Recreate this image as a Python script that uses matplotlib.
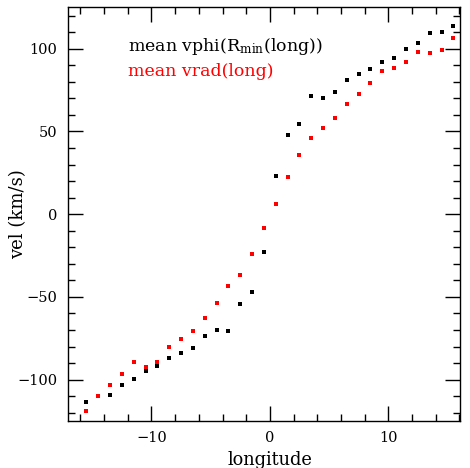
import matplotlib
matplotlib.use("Agg")
import matplotlib.pyplot as plt
from matplotlib.ticker import MultipleLocator

longitude = [-15.5, -14.5, -13.5, -12.5, -11.5, -10.5, -9.5, -8.5, -7.5, -6.5, -5.5, -4.5,
             -3.5, -2.5, -1.5, -0.5, 0.5, 1.5, 2.5, 3.5, 4.5, 5.5, 6.5, 7.5, 8.5, 9.5,
             10.5, 11.5, 12.5, 13.5, 14.5, 15.5]
vphi = [-113.6, -110.0, -109.3, -103.3, -99.8, -94.6, -91.7, -87.1, -84.1, -80.8, -73.8, -69.9,
        -70.7, -54.4, -47.3, -23.0, 23.2, 47.6, 54.3, 71.1, 70.1, 73.9, 81.0, 84.4, 87.5, 91.7,
        94.5, 100.0, 103.4, 109.5, 110.1, 113.5]
vrad = [-119.2, -109.9, -103.3, -96.4, -89.5, -92.1, -89.1, -80.0, -75.4, -70.5, -63.0, -53.6,
        -43.6, -36.6, -24.2, -8.3, 6.1, 22.2, 35.5, 45.8, 52.1, 58.2, 66.4, 72.5, 79.0, 86.7,
        88.1, 91.7, 98.2, 97.6, 99.4, 106.4]

label_vphi = r"mean vphi(R$_{\mathrm{min}}$(long))"
label_vrad = "mean vrad(long)"

plt.rcParams['font.family'] = ['DejaVu Serif']
plt.rcParams['mathtext.fontset'] = 'dejavuserif'

fig = plt.figure(figsize=(4.70, 4.68), dpi=100)
ax = fig.add_axes([0.1447, 0.1004, 0.834, 0.884])

ax.plot(longitude, vphi, 's', color='black', markersize=3.3, markeredgewidth=0)
ax.plot(longitude, vrad, 's', color='#ff0000', markersize=3.3, markeredgewidth=0)

ax.set_xlim(-17.05, 16.06)
ax.set_ylim(-125, 125)
ax.xaxis.set_major_locator(MultipleLocator(10))
ax.xaxis.set_minor_locator(MultipleLocator(2))
ax.yaxis.set_major_locator(MultipleLocator(50))
ax.yaxis.set_minor_locator(MultipleLocator(10))
ax.tick_params(which='both', direction='in', top=True, right=True, width=1)
ax.tick_params(which='major', length=11, labelsize=10.5)
ax.tick_params(axis='x', which='major', pad=7)
ax.tick_params(axis='y', which='major', pad=7.5)
ax.tick_params(which='minor', length=5)
for s in ax.spines.values():
    s.set_linewidth(1)

ax.set_xlabel("longitude", fontsize=12.8)
ax.xaxis.set_label_coords(0.515, -0.073)
ax.xaxis.label.set_va('top')
ax.set_ylabel("vel (km/s)", fontsize=13)
ax.yaxis.set_label_coords(-0.105, 0.5)

ax.text(0.153, 0.8945, label_vphi, transform=ax.transAxes, fontsize=12.5,
        color='black', va='baseline')
ax.text(0.153, 0.834, label_vrad, transform=ax.transAxes, fontsize=12.5,
        color='#ff0000', va='baseline')

fig.savefig("out.png", dpi=100)
